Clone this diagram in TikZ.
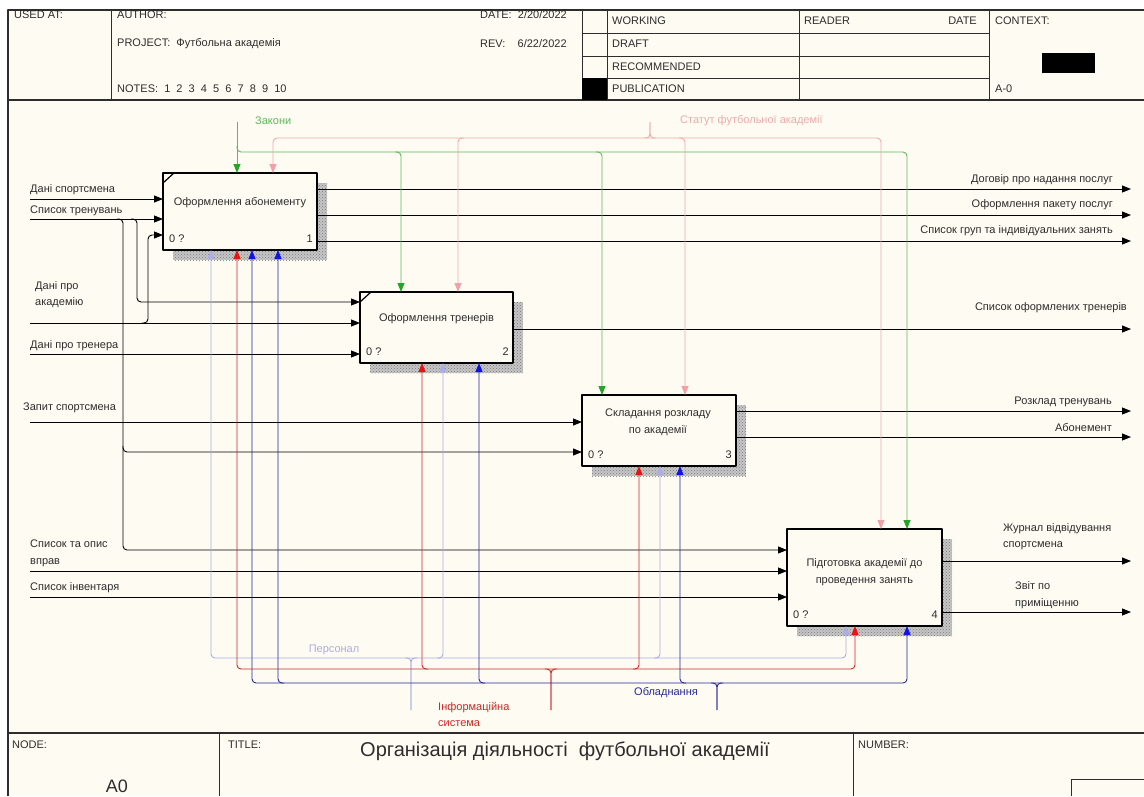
\documentclass[tikz,border=0pt]{standalone}
\usepackage{fontspec}
\setmainfont{Liberation Sans}
\usepackage{tikz}
\usetikzlibrary{arrows.meta,calc,patterns}

\definecolor{paper}{RGB}{253,251,242}
\definecolor{ink}{RGB}{45,45,45}
\definecolor{lawG}{RGB}{95,185,95}
\definecolor{lawGtip}{RGB}{35,165,40}
\definecolor{statP}{RGB}{236,172,172}
\definecolor{statPtip}{RGB}{242,160,168}
\definecolor{persL}{RGB}{172,172,230}
\definecolor{infoR}{RGB}{205,40,40}
\definecolor{infoRtip}{RGB}{230,20,20}
\definecolor{equipB}{RGB}{40,40,150}
\definecolor{equipBtip}{RGB}{20,20,225}

\begin{document}
\begin{tikzpicture}[x=1pt,y=-1pt,line join=round,
  txt/.style={font=\fontsize{11}{16.5}\selectfont,text=ink,inner sep=0pt},
  fn/.style={draw=black,line width=1.9pt,fill=paper,inner sep=0pt,outer sep=0pt},
  rule/.style={draw=ink,line width=0.8pt},
  frame/.style={draw=ink,line width=1.4pt},
  shade/.style={fill=gray!45,postaction={pattern=crosshatch dots,pattern color=gray!95!black}},
  bus/.style={rounded corners=4pt},
  io/.style={draw=black,line width=0.9pt,>={Triangle[length=9pt,width=7pt]}},
  ctlG/.style={draw=lawG,line width=0.9pt,>={Triangle[length=9pt,width=7pt,color=lawGtip]}},
  ctlP/.style={draw=statP,line width=0.9pt,>={Triangle[length=9pt,width=7pt,color=statPtip]}},
  mPer/.style={draw=persL,line width=0.9pt,>={Triangle[length=9pt,width=7pt,color=persL]}},
  mInf/.style={draw=infoR,line width=0.9pt,>={Triangle[length=9pt,width=7pt,color=infoRtip]}},
  mEqp/.style={draw=equipB,line width=0.9pt,>={Triangle[length=9pt,width=7pt,color=equipBtip]}}]

  \useasboundingbox (0,0) rectangle (1144,796);
  \fill[white] (0,0) rectangle (1144,796);
  \fill[paper] (8,10) rectangle (1144,796);

  % frame, header and footer
  \draw[frame] (8,796) -- (8,10) -- (1144,10);
  \draw[frame] (8,100) -- (1144,100);
  \draw[frame] (8,733) -- (1144,733);
  \foreach \hx in {111,582,607,799,989} \draw[rule] (\hx,10) -- (\hx,100);
  \foreach \hy in {33,56,78} \draw[rule] (582,\hy) -- (989,\hy);
  \fill[black] (582,78) rectangle (607,100);
  \fill[black] (1042,53) rectangle (1095,73);
  \foreach \fx in {219,853} \draw[rule] (\fx,733) -- (\fx,796);
  \draw[rule] (1071,796) -- (1071,779) -- (1144,779);

  \node[txt,anchor=west] (hUsed) at (14,15) {USED AT:};
  \node[txt,anchor=west] (hAuthor) at (117,15) {AUTHOR:};
  \node[txt,anchor=west] (hProject) at (117,44) {PROJECT:\ \ Футбольна академія};
  \node[txt,anchor=west] (hNotes) at (117,89) {NOTES:\ \ 1\ \ 2\ \ 3\ \ 4\ \ 5\ \ 6\ \ 7\ \ 8\ \ 9\ \ 10};
  \node[txt,anchor=west] (hDate) at (480,15) {DATE:\ \ 2/20/2022};
  \node[txt,anchor=west] (hRev) at (480,44) {REV:\ \ \ \ 6/22/2022};
  \node[txt,anchor=west] (hWork) at (612,21) {WORKING};
  \node[txt,anchor=west] (hDraft) at (612,44) {DRAFT};
  \node[txt,anchor=west] (hRec) at (612,67) {RECOMMENDED};
  \node[txt,anchor=west] (hPub) at (612,89) {PUBLICATION};
  \node[txt,anchor=west] (hReader) at (804,21) {READER};
  \node[txt,anchor=east] (hRdate) at (977,21) {DATE};
  \node[txt,anchor=west] (hCtx) at (995,21) {CONTEXT:};
  \node[txt,anchor=west] (hA0) at (995,89) {A-0};
  \node[txt,anchor=west] (fNode) at (12,745) {NODE:};
  \node[txt,anchor=west] (fTitleLbl) at (228,745) {TITLE:};
  \node[txt,anchor=west] (fNumber) at (858,745) {NUMBER:};
  \node[txt,font=\fontsize{20}{24}\selectfont] (fTitle) at (565,751) {Організація діяльності\ \ футбольної академії};
  \node[txt,font=\fontsize{18}{22}\selectfont] (fA0) at (117,786) {A0};

  % activity boxes
  \node[fn,minimum width=154pt,minimum height=77pt] (b1) at (240,211.5) {};
  \node[fn,minimum width=153pt,minimum height=71pt] (b2) at (436.5,327.5) {};
  \node[fn,minimum width=154pt,minimum height=71pt] (b3) at (659,430.5) {};
  \node[fn,minimum width=155pt,minimum height=97pt] (b4) at (864.5,577.5) {};
  \foreach \b in {b1,b2,b3,b4} {
    \fill[shade] ($(\b.north east)+(1,10)$) rectangle ($(\b.south east)+(10,10)$);
    \fill[shade] ($(\b.south west)+(10,1)$) rectangle ($(\b.south east)+(1,10)$);
  }
  \draw[line width=1.2pt] ($(b1.north west)+(0,10)$) -- ($(b1.north west)+(11,0)$);
  \draw[line width=1.2pt] ($(b2.north west)+(0,10)$) -- ($(b2.north west)+(11,0)$);

  \node[txt] (t1) at ($(b1.north)+(0,30)$) {Оформлення абонементу};
  \node[txt] (t2) at ($(b2.north)+(0,27)$) {Оформлення тренерів};
  \node[txt,align=center] (t3) at ($(b3.north)+(-1,27)$) {Складання розкладу\\по академії};
  \node[txt,align=center] (t4) at ($(b4.north)+(0,43)$) {Підготовка академії до\\проведення занять};
  \foreach \b/\k in {b1/1,b2/2,b3/3,b4/4} {
    \node[txt,anchor=west] (\b z) at ($(\b.south west)+(6,-11)$) {0 ?};
    \node[txt,anchor=east] (\b n) at ($(\b.south east)+(-4,-11)$) {\k};
  }

  % inputs
  \coordinate (iSport) at (30,199);
  \coordinate (iTren) at (30,219);
  \coordinate (iAkad) at (30,323);
  \coordinate (iTrener) at (30,354);
  \coordinate (iZapyt) at (30,422);
  \coordinate (iVpravy) at (30,571);
  \coordinate (iInv) at (30,597);
  \coordinate (jT1) at (123,219);
  \coordinate (jT2) at (137,219);
  \coordinate (jA) at (148,323);
  \draw[io,->] (iSport) -- (iSport -| b1.west);
  \draw[io,->] (iTren) -- (iTren -| b1.west);
  \draw[io,->] (iAkad) -- (iAkad -| b2.west);
  \draw[io,->] (iTrener) -- (iTrener -| b2.west);
  \draw[io,->] (iZapyt) -- (iZapyt -| b3.west);
  \draw[io,->] (iVpravy) -- (iVpravy -| b4.west);
  \draw[io,->] (iInv) -- (iInv -| b4.west);
  \draw[io,->,bus] ($(jT1)+(-6,0)$) -- (jT1) |- (b4.west |- 0,550);
  \draw[io,->,bus] (jT1 |- 0,446) -- (jT1 |- 0,452) -- (b3.west |- 0,452);
  \draw[io,->,bus] ($(jT2)+(-6,0)$) -- (jT2) |- (b2.west |- 0,302);
  \draw[io,->,bus] ($(jA)+(-6,0)$) -- (jA) |- (b1.west |- 0,235);

  \node[txt,anchor=west] (lSport) at (30,190) {Дані спортсмена};
  \node[txt,anchor=west] (lTren) at (30,211) {Список тренувань};
  \node[txt,anchor=west,align=left] (lAkad) at (35,294.5) {Дані про\\академію};
  \node[txt,anchor=west] (lTrener) at (30,346) {Дані про тренера};
  \node[txt,anchor=west] (lZapyt) at (23,408) {Запит спортсмена};
  \node[txt,anchor=west,align=left] (lVpravy) at (30,553.5) {Список та опис\\вправ};
  \node[txt,anchor=west] (lInv) at (30,588) {Список інвентаря};

  % outputs
  \coordinate (oR) at (1131,0);
  \draw[io,->] (b1.east |- 0,189) -- (oR |- 0,189);
  \draw[io,->] (b1.east |- 0,215) -- (oR |- 0,215);
  \draw[io,->] (b1.east |- 0,241) -- (oR |- 0,241);
  \draw[io,->] (b2.east |- 0,329) -- (oR |- 0,329);
  \draw[io,->] (b3.east |- 0,411) -- (oR |- 0,411);
  \draw[io,->] (b3.east |- 0,437) -- (oR |- 0,437);
  \draw[io,->] (b4.east |- 0,561) -- (oR |- 0,561);
  \draw[io,->] (b4.east |- 0,612) -- (oR |- 0,612);

  \node[txt,anchor=east] (lDog) at (1113,180) {Договір про надання послуг};
  \node[txt,anchor=east] (lPak) at (1113,205) {Оформлення пакету послуг};
  \node[txt,anchor=east] (lGrup) at (1113,231) {Список груп та індивідуальних занять};
  \node[txt,anchor=east] (lOfTr) at (1127,308) {Список оформлених тренерів};
  \node[txt,anchor=east] (lRozk) at (1112,402) {Розклад тренувань};
  \node[txt,anchor=east] (lAbon) at (1112,428) {Абонемент};
  \node[txt,anchor=west,align=left] (lZhur) at (1003,536.5) {Журнал відвідування\\спортсмена};
  \node[txt,anchor=west,align=left] (lZvit) at (1015,595) {Звіт по\\приміщенню};

  % controls
  \coordinate (zak) at (237,122);
  \coordinate (stat) at (650,122);
  \draw[ctlG,->] (zak) -- (zak |- b1.north);
  \draw[ctlG,->,bus] (zak |- 0,146) -- (zak |- 0,152) -- (907,152) -- (907,0 |- b4.north);
  \draw[ctlG,->,bus] (395,152) -- (401,152) -- (401,0 |- b2.north);
  \draw[ctlG,->,bus] (596,152) -- (602,152) -- (602,0 |- b3.north);
  \draw[ctlP,<->,bus] (273,0 |- b1.north) -- (273,138) -- (881,138) -- (881,0 |- b4.north);
  \draw[ctlP,->,bus] (464,138) -- (458,138) -- (458,0 |- b2.north);
  \draw[ctlP,->,bus] (679,138) -- (685,138) -- (685,0 |- b3.north);
  \draw[ctlP,bus] (644,138) -- (stat |- 0,138) -- (stat);
  \draw[ctlP,bus] (656,138) -- (stat |- 0,138) -- (stat);
  \node[txt,anchor=west,text=lawG] (lZak) at (255,121) {Закони};
  \node[txt,anchor=west,text=statP] (lStat) at (680,121) {Статут футбольної академії};

  % mechanisms
  \coordinate (pers) at (411,710);
  \coordinate (info) at (551,710);
  \coordinate (equip) at (717,710);
  \draw[mPer,<->,bus] (211,0 |- b1.south) -- (211,658) -- (846,658) -- (846,0 |- b4.south);
  \draw[mPer,->,bus] (437,658) -- (443,658) -- (443,0 |- b2.south);
  \draw[mPer,->,bus] (654,658) -- (660,658) -- (660,0 |- b3.south);
  \draw[mPer,bus] (405,658) -- (pers |- 0,658) -- (pers);
  \draw[mPer,bus] (417,658) -- (pers |- 0,658) -- (pers);
  \draw[mInf,<->,bus] (237,0 |- b1.south) -- (237,669) -- (855,669) -- (855,0 |- b4.south);
  \draw[mInf,->,bus] (428,669) -- (422,669) -- (422,0 |- b2.south);
  \draw[mInf,->,bus] (633,669) -- (639,669) -- (639,0 |- b3.south);
  \draw[mInf,bus] (545,669) -- (info |- 0,669) -- (info);
  \draw[mInf,bus] (557,669) -- (info |- 0,669) -- (info);
  \draw[mEqp,<->,bus] (252,0 |- b1.south) -- (252,683) -- (907,683) -- (907,0 |- b4.south);
  \draw[mEqp,->,bus] (284,683) -- (278,683) -- (278,0 |- b1.south);
  \draw[mEqp,->,bus] (485,683) -- (479,683) -- (479,0 |- b2.south);
  \draw[mEqp,->,bus] (686,683) -- (680,683) -- (680,0 |- b3.south);
  \draw[mEqp,bus] (711,683) -- (equip |- 0,683) -- (equip);
  \draw[mEqp,bus] (723,683) -- (equip |- 0,683) -- (equip);
  \node[txt,text=persL] (lPers) at (334,650) {Персонал};
  \node[txt,text=infoR,anchor=west,align=left] (lInfo) at (438,714.5) {Інформаційна\\система};
  \node[txt,text=equipB] (lEqp) at (666,693) {Обладнання};
\end{tikzpicture}
\end{document}
